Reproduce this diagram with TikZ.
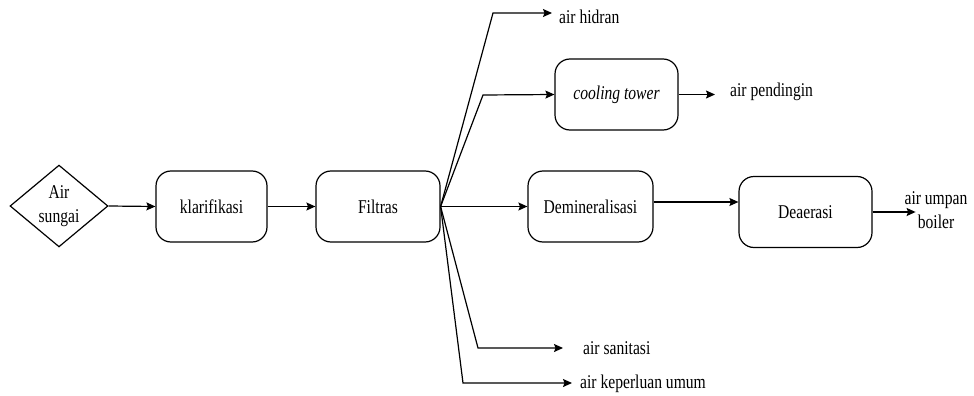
\documentclass[tikz,border=0pt]{standalone}
\usepackage{fontspec}
\setmainfont[FakeStretch=0.8]{Liberation Serif}
\usetikzlibrary{shapes.geometric,arrows.meta}
\begin{document}
\begin{tikzpicture}[x=1pt,y=-1pt,
  every node/.style={font=\fontsize{19.5}{24}\selectfont},
  procbox/.style={draw,line width=1.2pt,rounded corners=15pt,minimum height=71pt,inner sep=0pt,align=center},
  lbl/.style={inner sep=0pt,anchor=west},
  arr/.style={line width=1.2pt,-{Stealth[length=9pt,width=8pt,inset=1.5pt]}},
  ln/.style={line width=1.2pt}]
\useasboundingbox (0,0) rectangle (974,396);
\node[draw,line width=1.2pt,diamond,minimum width=98pt,minimum height=76pt,inner sep=0pt,align=center] (air) at (59,206) {Air\\sungai};
\node[procbox,minimum width=111pt] (klar) at (211.5,206.5) {klarifikasi};
\node[procbox,minimum width=124pt] (filt) at (378,206.5) {Filtras};
\node[procbox,minimum width=125pt] (demin) at (590.5,206.5) {Demineralisasi};
\node[procbox,minimum width=133pt] (deaer) at (805.5,212) {Deaerasi};
\node[procbox,minimum width=123pt] (cool) at (616.5,94.5) {\itshape cooling tower};
\node[lbl] (hidran) at (559,17) {air hidran};
\node[lbl] (pend) at (730,92) {air pendingin};
\node[lbl] (sanit) at (583,348) {air sanitasi};
\node[lbl] (umum) at (580,384) {air keperluan umum};
\node[inner sep=0pt,align=center] (umpan) at (936,210) {air umpan\\boiler};
\coordinate (kh) at (493,13);
\coordinate (kc) at (483,95);
\coordinate (ks) at (478,348);
\coordinate (ku) at (463,383);
\draw[arr] (air.east) -- (klar.west);
\draw[arr] (klar.east) -- (filt.west);
\draw[arr] (filt.east) -- (demin.west);
\coordinate (dd) at ([yshift=4.5pt]demin.east);
\draw[arr] (dd) -- (dd -| deaer.west);
\draw[arr] (filt.east) -- (kh) -- ([xshift=-7pt]hidran.west |- kh);
\draw[arr] (filt.east) -- (kc) -- (cool.west);
\draw[arr] (filt.east) -- (ks) -- ([xshift=-20pt]sanit.west |- ks);
\draw[arr] (filt.east) -- (ku) -- ([xshift=-8pt]umum.west |- ku);
\draw[arr] (cool.east) -- ([xshift=-15pt]pend.west |- cool.east);
\draw[arr] (deaer.east) -- ([xshift=43pt]deaer.east);
\end{tikzpicture}
\end{document}
